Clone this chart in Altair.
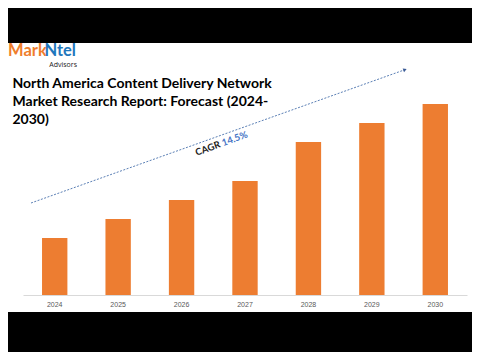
import altair as alt
import pandas as pd

# ---- data ----
years = ["2024", "2025", "2026", "2027", "2028", "2029", "2030"]
values = [57, 76, 95, 114, 153, 172, 191]

title_lines = [
    "North America Content Delivery Network",
    "Market Research Report: Forecast (2024-",
    "2030)",
]
logo_left = "Mark"
logo_right = "Ntel"
logo_sub = "Advisors"
cagr_label = "CAGR"
cagr_value = "14.5%"

df = pd.DataFrame({"year": years, "value": values})
one = alt.Data(values=[{"k": 1}])

ORANGE = "#ED7D31"
BLUE = "#4472C4"

bg = alt.Chart(one).mark_rect(color="white").encode(
    x=alt.value(-20), x2=alt.value(460), y=alt.value(-52), y2=alt.value(217)
)

title = alt.Chart(one).mark_text(
    align="left", baseline="alphabetic", font="Lato", fontWeight="bold",
    fontSize=14, color="#000000", lineBreak="\n", lineHeight=18.3
).encode(x=alt.value(-10.5), y=alt.value(-7.3), text=alt.value("\n".join(title_lines)))

logo_a = alt.Chart(one).mark_text(
    align="left", baseline="alphabetic", font="Lato", fontWeight="bold",
    fontSize=16.5, color="#EF7D2C"
).encode(x=alt.value(-15), y=alt.value(-39), text=alt.value(logo_left))

logo_b = alt.Chart(one).mark_text(
    align="left", baseline="alphabetic", font="Lato", fontWeight="bold",
    fontSize=16.5, color="#1F77BC"
).encode(x=alt.value(21.5), y=alt.value(-39), text=alt.value(logo_right))

logo_c = alt.Chart(one).mark_text(
    align="right", baseline="alphabetic", font="Open Sans",
    fontSize=7, color="#222222"
).encode(x=alt.value(54), y=alt.value(-28.5), text=alt.value(logo_sub))

arrow = alt.Chart(one).mark_rule(
    color="#5B7FB5", strokeWidth=1, strokeDash=[2, 1.5]
).encode(x=alt.value(8), y=alt.value(108), x2=alt.value(382.5), y2=alt.value(-25.5))

head = alt.Chart(one).mark_point(
    shape="triangle-right", filled=True, size=16, angle=340, color="#3A5A95", opacity=1
).encode(x=alt.value(382), y=alt.value(-25.3))

cagr_a = alt.Chart(one).mark_text(
    align="right", baseline="alphabetic", angle=340, font="Lato",
    fontWeight="bold", fontSize=9.5, color="#1A1A1A"
).encode(x=alt.value(198), y=alt.value(52), text=alt.value(cagr_label))

cagr_b = alt.Chart(one).mark_text(
    align="left", baseline="alphabetic", angle=340, font="Lato",
    fontWeight="bold", fontSize=9.5, color=BLUE, dx=2.5
).encode(x=alt.value(198), y=alt.value(52), text=alt.value(cagr_value))

bars = alt.Chart(df).mark_bar(color=ORANGE).encode(
    x=alt.X(
        "year:N", sort=years,
        scale=alt.Scale(paddingInner=0.6, paddingOuter=0.3),
        axis=alt.Axis(
            title=None, labelAngle=0, ticks=False, domainColor="#D9D9D9",
            labelColor="#595959", labelFontSize=7, labelPadding=5,
            labelFont="Liberation Sans", zindex=1
        ),
    ),
    y=alt.Y("value:Q", scale=alt.Scale(domain=[0, 200]), axis=None),
)

chart = alt.layer(
    bg, title, logo_a, logo_b, logo_c, arrow, head, cagr_a, cagr_b, bars
).properties(
    width=444, height=200,
    autosize=alt.AutoSizeParams(type="none"),
    padding={"left": 15, "top": 87, "right": 5, "bottom": 57},
    background="black",
).configure_view(stroke=None)

chart.save("out.html", embed_options={"renderer": "svg", "actions": False})
